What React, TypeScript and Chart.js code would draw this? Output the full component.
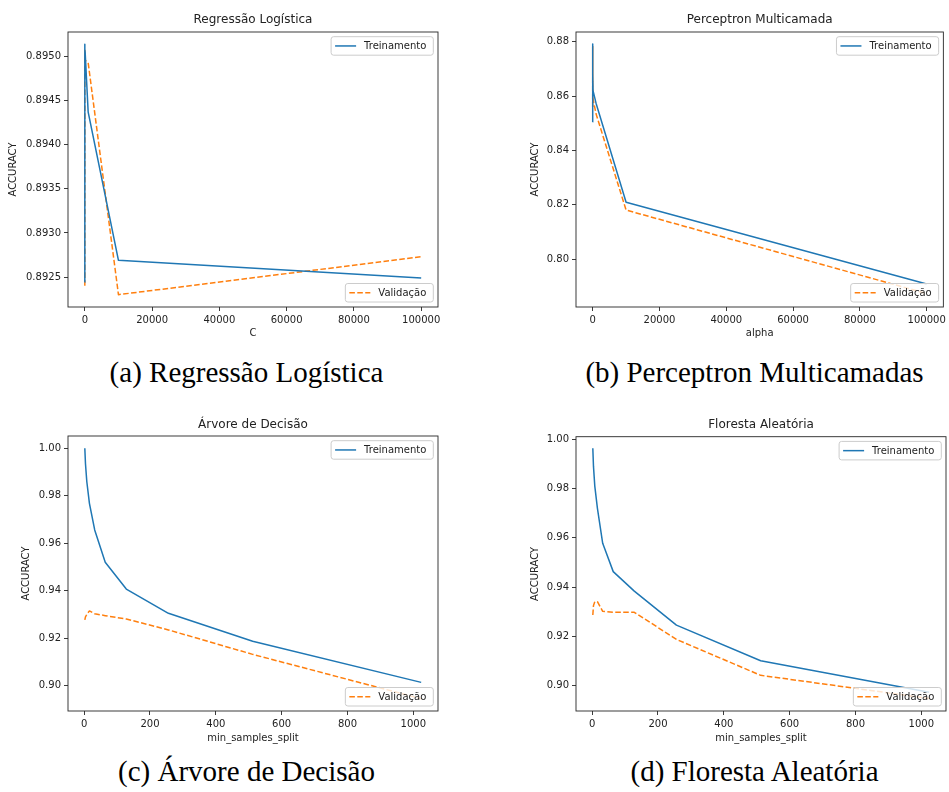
import React, { useEffect, useRef } from "react";
import { Chart, registerables } from "chart.js";

Chart.register(...registerables);

const FONT = "'DejaVu Sans', sans-serif";
const BLUE = "#1f77b4";
const ORANGE = "#ff7f0e";
const TEXT = "#222222";
const SPINE = "#262626";

// (a) Regressão Logística
const lrC = [0.001, 0.01, 0.1, 1, 10, 100, 1000, 10000, 100000];
const lrTrain = [0.89244, 0.89514, 0.89512, 0.8951, 0.89508, 0.89505, 0.89437, 0.89269, 0.89249];
const lrVal = [0.8924, 0.89508, 0.895, 0.89502, 0.89498, 0.89496, 0.89493, 0.8923, 0.89273];
const lrXTicks = [0, 20000, 40000, 60000, 80000, 100000];
const lrYTicks = [0.8925, 0.893, 0.8935, 0.894, 0.8945, 0.895];

// (b) Perceptron Multicamada
const mlpAlpha = [0.00001, 0.0001, 0.001, 0.01, 0.1, 1, 10, 100, 1000, 10000, 100000];
const mlpTrain = [0.8505, 0.879, 0.8792, 0.8785, 0.877, 0.874, 0.868, 0.862, 0.8574, 0.821, 0.7909];
const mlpVal = [0.856, 0.878, 0.8782, 0.8775, 0.876, 0.872, 0.865, 0.859, 0.8535, 0.8181, 0.7874];
const mlpXTicks = [0, 20000, 40000, 60000, 80000, 100000];
const mlpYTicks = [0.8, 0.82, 0.84, 0.86, 0.88];

// (c) Árvore de Decisão, (d) Floresta Aleatória
const minSamplesSplit = [2, 4, 8, 16, 32, 64, 128, 256, 512, 1024];
const dtTrain = [1.0, 0.9935, 0.986, 0.9768, 0.9656, 0.952, 0.9407, 0.9305, 0.9187, 0.9014];
const dtVal = [0.9277, 0.929, 0.93, 0.9315, 0.9303, 0.9295, 0.9281, 0.9235, 0.9132, 0.8945];
const rfTrain = [0.9964, 0.989, 0.981, 0.972, 0.9578, 0.9463, 0.9384, 0.9246, 0.9101, 0.8973];
const rfVal = [0.9287, 0.9325, 0.9341, 0.9341, 0.9302, 0.9298, 0.9298, 0.9188, 0.9042, 0.8948];
const splitXTicks = [0, 200, 400, 600, 800, 1000];
const accYTicks = [0.9, 0.92, 0.94, 0.96, 0.98, 1.0];

const seriesLabels = ["Treinamento", "Validação"];

type Area = { l: number; r: number; t: number; b: number };
type PanelCfg = {
  left: number; top: number; width: number; height: number;
  area: Area; titleY: number; yTitleX: number;
  title: string; xTitle: string;
  xs: number[]; train: number[]; val: number[];
  xMin: number; xMax: number; yMin: number; yMax: number;
  xTicks: number[]; yTicks: number[]; yDecimals: number;
};

const panels: PanelCfg[] = [
  {
    left: 0, top: 0, width: 470, height: 345,
    area: { l: 68, r: 438, t: 32, b: 307 }, titleY: 20, yTitleX: 13.3,
    title: "Regressão Logística", xTitle: "C",
    xs: lrC, train: lrTrain, val: lrVal,
    xMin: -5000, xMax: 105000, yMin: 0.89216, yMax: 0.89528,
    xTicks: lrXTicks, yTicks: lrYTicks, yDecimals: 4,
  },
  {
    left: 470, top: 0, width: 479, height: 345,
    area: { l: 106, r: 476, t: 32, b: 307 }, titleY: 20, yTitleX: 65,
    title: "Perceptron Multicamada", xTitle: "alpha",
    xs: mlpAlpha, train: mlpTrain, val: mlpVal,
    xMin: -5000, xMax: 105000, yMin: 0.78246, yMax: 0.88357,
    xTicks: mlpXTicks, yTicks: mlpYTicks, yDecimals: 2,
  },
  {
    left: 0, top: 400, width: 470, height: 350,
    area: { l: 68, r: 438, t: 36, b: 311 }, titleY: 25, yTitleX: 26.7,
    title: "Árvore de Decisão", xTitle: "min_samples_split",
    xs: minSamplesSplit, train: dtTrain, val: dtVal,
    xMin: -49.1, xMax: 1075.1, yMin: 0.88934, yMax: 1.00518,
    xTicks: splitXTicks, yTicks: accYTicks, yDecimals: 2,
  },
  {
    left: 470, top: 400, width: 479, height: 350,
    area: { l: 106, r: 476, t: 36.7, b: 311 }, titleY: 25, yTitleX: 65,
    title: "Floresta Aleatória", xTitle: "min_samples_split",
    xs: minSamplesSplit, train: rfTrain, val: rfVal,
    xMin: -49.1, xMax: 1075.1, yMin: 0.88973, yMax: 1.00106,
    xTicks: splitXTicks, yTicks: accYTicks, yDecimals: 2,
  },
];

const captions = [
  { text: "(a) Regressão Logística", x: 246.5, baseline: 382 },
  { text: "(b) Perceptron Multicamadas", x: 754.5, baseline: 382 },
  { text: "(c) Árvore de Decisão", x: 246.5, baseline: 781 },
  { text: "(d) Floresta Aleatória", x: 754.5, baseline: 781 },
];

function drawLegendBox(
  ctx: CanvasRenderingContext2D,
  ca: { left: number; right: number; top: number; bottom: number },
  label: string,
  color: string,
  dash: number[],
  where: "tr" | "br"
) {
  ctx.save();
  ctx.font = `10px ${FONT}`;
  const tw = ctx.measureText(label).width;
  const w = 33 + tw + 7;
  const h = 18.5;
  const x = ca.right - 4.7 - w;
  const y = where === "tr" ? ca.top + 4.7 : ca.bottom - 5 - h;
  const r = 2.5;
  ctx.beginPath();
  ctx.moveTo(x + r, y);
  ctx.lineTo(x + w - r, y);
  ctx.arcTo(x + w, y, x + w, y + r, r);
  ctx.lineTo(x + w, y + h - r);
  ctx.arcTo(x + w, y + h, x + w - r, y + h, r);
  ctx.lineTo(x + r, y + h);
  ctx.arcTo(x, y + h, x, y + h - r, r);
  ctx.lineTo(x, y + r);
  ctx.arcTo(x, y, x + r, y, r);
  ctx.closePath();
  ctx.fillStyle = "rgba(255,255,255,0.8)";
  ctx.fill();
  ctx.strokeStyle = "#cccccc";
  ctx.lineWidth = 1;
  ctx.stroke();
  const cy = y + h / 2;
  ctx.beginPath();
  ctx.setLineDash(dash);
  ctx.strokeStyle = color;
  ctx.lineWidth = 1.5;
  ctx.moveTo(x + 4, cy);
  ctx.lineTo(x + 25, cy);
  ctx.stroke();
  ctx.setLineDash([]);
  ctx.fillStyle = TEXT;
  ctx.textBaseline = "middle";
  ctx.textAlign = "left";
  ctx.fillText(label, x + 33, cy + 0.5);
  ctx.restore();
}

function Panel({ cfg }: { cfg: PanelCfg }) {
  const ref = useRef<HTMLCanvasElement | null>(null);
  useEffect(() => {
    const canvas = ref.current;
    if (!canvas) return;
    const { area } = cfg;
    const font = { family: FONT, size: 10, weight: "normal" as const };
    const framePlugin = {
      id: "frameLegend",
      afterDatasetsDraw(chart: any) {
        const ctx: CanvasRenderingContext2D = chart.ctx;
        const ca = chart.chartArea;
        ctx.save();
        ctx.strokeStyle = SPINE;
        ctx.lineWidth = 0.9;
        ctx.setLineDash([]);
        ctx.strokeRect(ca.left, ca.top, ca.right - ca.left, ca.bottom - ca.top);
        ctx.restore();
        drawLegendBox(ctx, ca, seriesLabels[0], BLUE, [], "tr");
        drawLegendBox(ctx, ca, seriesLabels[1], ORANGE, [5.55, 2.4], "br");
      },
    };
    const chart = new Chart(canvas, {
      type: "line",
      data: {
        datasets: [
          {
            label: seriesLabels[0],
            data: cfg.xs.map((x, i) => ({ x, y: cfg.train[i] })),
            borderColor: BLUE,
            backgroundColor: BLUE,
            borderWidth: 1.5,
            pointRadius: 0,
            tension: 0,
            fill: false,
            borderJoinStyle: "round",
          },
          {
            label: seriesLabels[1],
            data: cfg.xs.map((x, i) => ({ x, y: cfg.val[i] })),
            borderColor: ORANGE,
            backgroundColor: ORANGE,
            borderWidth: 1.5,
            borderDash: [5.55, 2.4],
            pointRadius: 0,
            tension: 0,
            fill: false,
            borderJoinStyle: "round",
          },
        ],
      },
      options: {
        animation: false,
        responsive: false,
        devicePixelRatio: 1,
        events: [],
        layout: { padding: { left: 0, top: 0, bottom: 0, right: cfg.width - area.r } },
        plugins: {
          legend: { display: false },
          tooltip: { enabled: false },
          title: {
            display: true,
            text: cfg.title,
            fullSize: false,
            color: TEXT,
            font: { family: FONT, size: 12, weight: "normal" },
            padding: { top: cfg.titleY - 7.2, bottom: area.t - cfg.titleY - 7.2 },
          },
        },
        scales: {
          x: {
            type: "linear",
            min: cfg.xMin,
            max: cfg.xMax,
            afterFit: (s: any) => {
              s.height = cfg.height - area.b;
            },
            afterBuildTicks: (s: any) => {
              s.ticks = cfg.xTicks.map((v) => ({ value: v }));
            },
            ticks: {
              autoSkip: false,
              maxRotation: 0,
              minRotation: 0,
              padding: 3,
              color: TEXT,
              font,
              callback: (v: any) => String(v),
            },
            grid: {
              display: true,
              drawOnChartArea: false,
              drawTicks: true,
              tickLength: 4,
              color: SPINE,
              tickColor: SPINE,
              lineWidth: 0.9,
            },
            border: { display: false },
            title: {
              display: true,
              text: cfg.xTitle,
              color: TEXT,
              font,
              padding: { top: 0, bottom: 6 },
            },
          },
          y: {
            type: "linear",
            min: cfg.yMin,
            max: cfg.yMax,
            afterFit: (s: any) => {
              s.width = area.l;
            },
            afterBuildTicks: (s: any) => {
              s.ticks = cfg.yTicks.map((v) => ({ value: v }));
            },
            ticks: {
              autoSkip: false,
              padding: 3,
              color: TEXT,
              font,
              callback: (v: any) => Number(v).toFixed(cfg.yDecimals),
            },
            grid: {
              display: true,
              drawOnChartArea: false,
              drawTicks: true,
              tickLength: 4,
              color: SPINE,
              tickColor: SPINE,
              lineWidth: 0.9,
            },
            border: { display: false },
            title: {
              display: true,
              text: "ACCURACY",
              color: TEXT,
              font,
              padding: { top: cfg.yTitleX - 6, bottom: 0 },
            },
          },
        },
      },
      plugins: [framePlugin],
    } as any);
    return () => {
      chart.destroy();
    };
  }, [cfg]);
  return (
    <canvas
      ref={ref}
      width={cfg.width}
      height={cfg.height}
      style={{
        position: "absolute",
        left: cfg.left,
        top: cfg.top,
        width: cfg.width,
        height: cfg.height,
        display: "block",
      }}
    />
  );
}

export default function App() {
  return (
    <div
      style={{
        position: "absolute",
        left: 0,
        top: 0,
        width: 949,
        height: 792,
        background: "#ffffff",
        overflow: "hidden",
      }}
    >
      {panels.map((p, i) => (
        <Panel key={i} cfg={p} />
      ))}
      {captions.map((c, i) => (
        <div
          key={"cap" + i}
          style={{
            position: "absolute",
            left: c.x,
            top: c.baseline - 24.3,
            transform: "translateX(-50%)",
            fontFamily: "'Liberation Serif', 'Times New Roman', serif",
            fontSize: 29,
            lineHeight: "29px",
            whiteSpace: "nowrap",
            color: "#000",
          }}
        >
          {c.text}
        </div>
      ))}
    </div>
  );
}
